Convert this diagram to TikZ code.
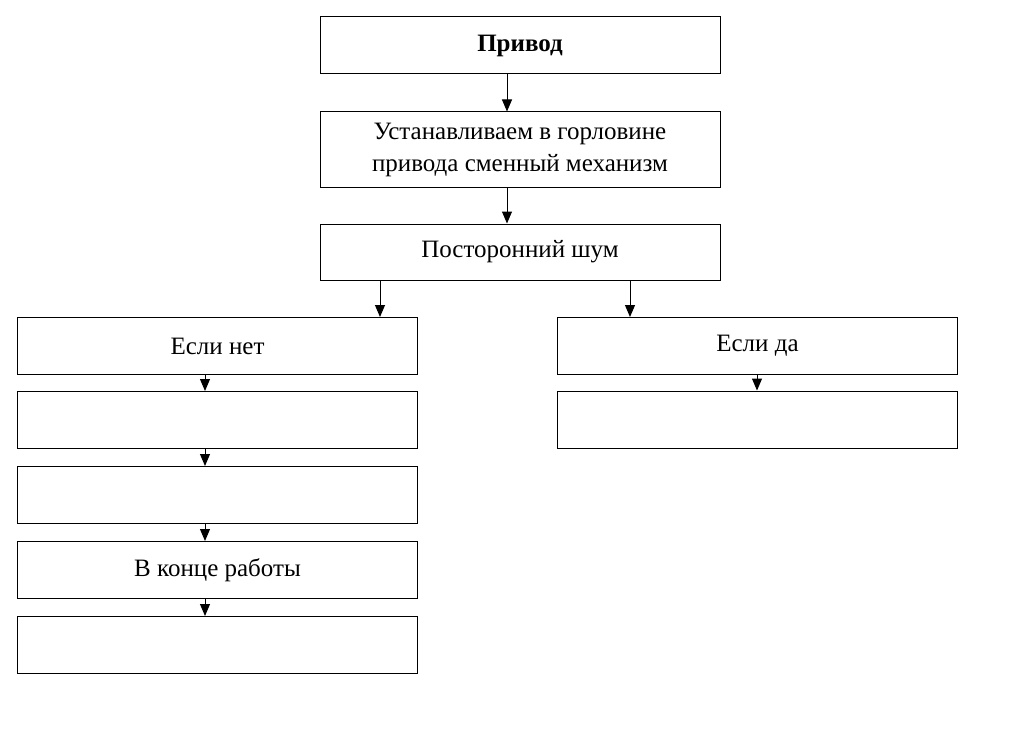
\documentclass[tikz,border=0pt]{standalone}
\usepackage{fontspec}
\setmainfont{Liberation Serif}
\usetikzlibrary{arrows.meta}
\tikzset{
  blok/.style={draw, line width=1pt, minimum width=400pt, minimum height=57pt,
    inner sep=0pt, align=center, font=\fontsize{25}{32}\selectfont},
  strl/.style={line width=1pt, -{Triangle[width=10pt,length=12pt]}}
}
\begin{document}
\begin{tikzpicture}[x=1pt,y=-1pt]
\useasboundingbox (0,0) rectangle (1027,733);
% central column
\node[blok] (privod) at (520,45.5) {\textbf{Привод}};
\node[blok, minimum height=75pt] (ustan) at (520,149.5) {Устанавливаем в горловине\\привода сменный механизм};
\node[blok, minimum height=56pt] (shum) at (520,252) {Посторонний шум};
% left column
\node[blok] (net) at (217.5,346) {Если нет};
\node[blok] (net2) at (217.5,420) {};
\node[blok] (net3) at (217.5,495) {};
\node[blok] (konec) at (217.5,570) {В конце работы};
\node[blok] (net5) at (217.5,645) {};
% right column
\node[blok] (da) at (757.5,346) {Если да};
\node[blok] (da2) at (757.5,419.5) {};
% arrows
\draw[strl] (privod.south -| 507,0) -- (ustan.north -| 507,0);
\draw[strl] (ustan.south -| 507,0) -- (shum.north -| 507,0);
\draw[strl] (shum.south -| 380,0) -- (net.north -| 380,0);
\draw[strl] (shum.south -| 630,0) -- (da.north -| 630,0);
\draw[strl] (net.south -| 205,0) -- (net2.north -| 205,0);
\draw[strl] (net2.south -| 205,0) -- (net3.north -| 205,0);
\draw[strl] (net3.south -| 205,0) -- (konec.north -| 205,0);
\draw[strl] (konec.south -| 205,0) -- (net5.north -| 205,0);
\draw[strl] (da.south -| 757,0) -- (da2.north -| 757,0);
\end{tikzpicture}
\end{document}
